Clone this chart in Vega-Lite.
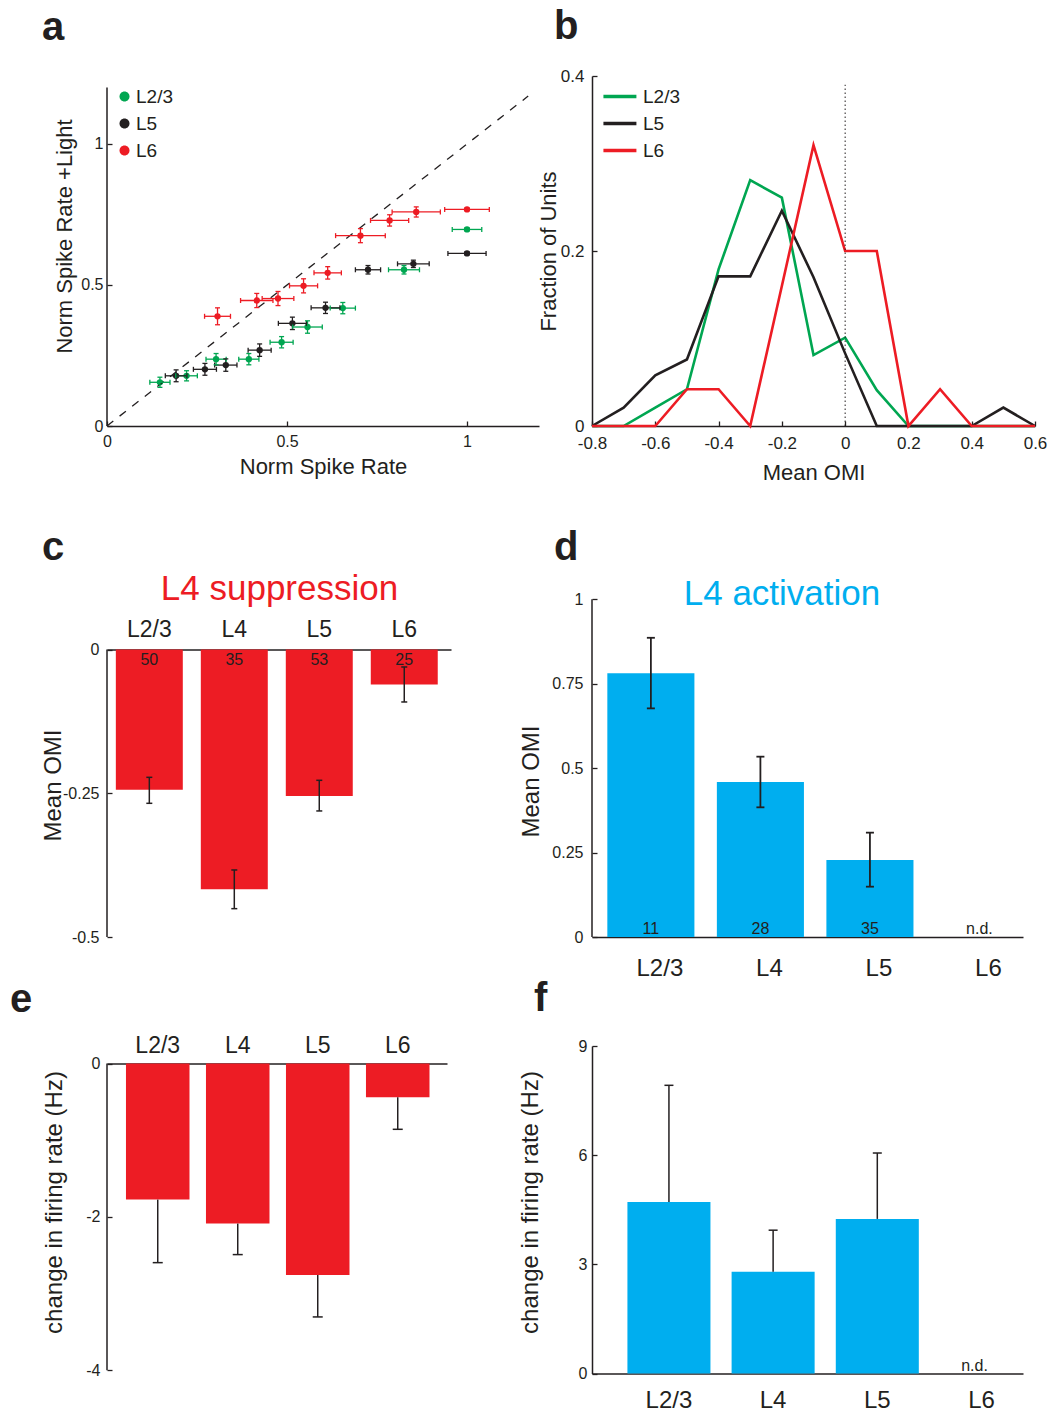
{
  "$schema": "https://vega.github.io/schema/vega-lite/v6.json",
  "background": "white",
  "padding": {"left": 10, "top": 7, "right": 5, "bottom": 5},
  "columns": 2,
  "spacing": {"row": 109, "column": 53},
  "bounds": "flush",
  "align": "each",
  "resolve": {"scale": {"color": "independent"}, "legend": {"color": "independent"}},
  "config": {
    "font": "Liberation Sans",
    "view": {"stroke": null},
    "axis": {
      "grid": false, "domainColor": "#231f20", "domainWidth": 1.5,
      "tickColor": "#231f20", "tickWidth": 1.3,
      "labelColor": "#231f20", "titleColor": "#231f20",
      "labelFont": "Liberation Sans", "titleFont": "Liberation Sans",
      "titleFontWeight": "normal", "labelFontSize": 16, "titleFontSize": 22,
      "labelFlush": false, "labelOverlap": false, "labelBound": false
    },
    "legend": {"labelFont": "Liberation Sans", "labelFontSize": 19, "labelColor": "#231f20"},
    "title": {"font": "Liberation Sans", "color": "#231f20"}
  },
  "concat": [
    {
      "width": 432, "height": 350,
      "title": {"text": "a", "anchor": "start", "frame": "group", "fontSize": 40, "fontWeight": "bold", "baseline": "alphabetic", "offset": -3.6, "dx": -65},
      "data": {"values": [
        {"layer": "L2/3", "x": 0.147, "xlo": 0.119, "xhi": 0.175, "y": 0.155, "ylo": 0.137, "yhi": 0.173},
        {"layer": "L2/3", "x": 0.221, "xlo": 0.191, "xhi": 0.251, "y": 0.178, "ylo": 0.160, "yhi": 0.196},
        {"layer": "L2/3", "x": 0.303, "xlo": 0.275, "xhi": 0.331, "y": 0.237, "ylo": 0.217, "yhi": 0.257},
        {"layer": "L2/3", "x": 0.394, "xlo": 0.366, "xhi": 0.422, "y": 0.237, "ylo": 0.217, "yhi": 0.257},
        {"layer": "L2/3", "x": 0.485, "xlo": 0.453, "xhi": 0.517, "y": 0.297, "ylo": 0.277, "yhi": 0.317},
        {"layer": "L2/3", "x": 0.557, "xlo": 0.516, "xhi": 0.598, "y": 0.351, "ylo": 0.329, "yhi": 0.373},
        {"layer": "L2/3", "x": 0.655, "xlo": 0.620, "xhi": 0.690, "y": 0.418, "ylo": 0.398, "yhi": 0.438},
        {"layer": "L2/3", "x": 0.825, "xlo": 0.782, "xhi": 0.868, "y": 0.554, "ylo": 0.539, "yhi": 0.569},
        {"layer": "L2/3", "x": 1.000, "xlo": 0.959, "xhi": 1.041, "y": 0.697, "ylo": 0.691, "yhi": 0.703},
        {"layer": "L5", "x": 0.192, "xlo": 0.162, "xhi": 0.222, "y": 0.178, "ylo": 0.157, "yhi": 0.199},
        {"layer": "L5", "x": 0.272, "xlo": 0.240, "xhi": 0.304, "y": 0.201, "ylo": 0.180, "yhi": 0.222},
        {"layer": "L5", "x": 0.330, "xlo": 0.299, "xhi": 0.361, "y": 0.216, "ylo": 0.194, "yhi": 0.238},
        {"layer": "L5", "x": 0.424, "xlo": 0.392, "xhi": 0.456, "y": 0.269, "ylo": 0.247, "yhi": 0.291},
        {"layer": "L5", "x": 0.515, "xlo": 0.476, "xhi": 0.554, "y": 0.364, "ylo": 0.342, "yhi": 0.386},
        {"layer": "L5", "x": 0.607, "xlo": 0.567, "xhi": 0.647, "y": 0.419, "ylo": 0.399, "yhi": 0.439},
        {"layer": "L5", "x": 0.725, "xlo": 0.690, "xhi": 0.760, "y": 0.554, "ylo": 0.539, "yhi": 0.569},
        {"layer": "L5", "x": 0.851, "xlo": 0.807, "xhi": 0.895, "y": 0.575, "ylo": 0.562, "yhi": 0.588},
        {"layer": "L5", "x": 1.000, "xlo": 0.947, "xhi": 1.053, "y": 0.612, "ylo": 0.606, "yhi": 0.618},
        {"layer": "L6", "x": 0.307, "xlo": 0.271, "xhi": 0.343, "y": 0.389, "ylo": 0.359, "yhi": 0.419},
        {"layer": "L6", "x": 0.416, "xlo": 0.371, "xhi": 0.461, "y": 0.445, "ylo": 0.420, "yhi": 0.470},
        {"layer": "L6", "x": 0.475, "xlo": 0.431, "xhi": 0.519, "y": 0.452, "ylo": 0.427, "yhi": 0.477},
        {"layer": "L6", "x": 0.546, "xlo": 0.507, "xhi": 0.585, "y": 0.497, "ylo": 0.472, "yhi": 0.522},
        {"layer": "L6", "x": 0.613, "xlo": 0.575, "xhi": 0.651, "y": 0.543, "ylo": 0.521, "yhi": 0.565},
        {"layer": "L6", "x": 0.704, "xlo": 0.635, "xhi": 0.773, "y": 0.675, "ylo": 0.650, "yhi": 0.700},
        {"layer": "L6", "x": 0.785, "xlo": 0.732, "xhi": 0.838, "y": 0.729, "ylo": 0.709, "yhi": 0.749},
        {"layer": "L6", "x": 0.859, "xlo": 0.792, "xhi": 0.926, "y": 0.759, "ylo": 0.741, "yhi": 0.777},
        {"layer": "L6", "x": 1.000, "xlo": 0.938, "xhi": 1.062, "y": 0.768, "ylo": 0.763, "yhi": 0.773}
      ]},
      "layer": [
        {
          "mark": {"type": "point", "filled": true, "shape": "circle", "size": 40, "opacity": 1},
          "encoding": {
            "x": {"field": "x", "type": "quantitative", "title": "Norm Spike Rate",
                  "scale": {"domain": [0, 1.2], "nice": false, "zero": false},
                  "axis": {"values": [0, 0.5, 1], "format": "~g", "tickSize": -5, "labelPadding": 25, "labelBaseline": "alphabetic", "titleY": 47, "titleBaseline": "alphabetic"}},
            "y": {"field": "y", "type": "quantitative", "title": "Norm Spike Rate +Light",
                  "scale": {"domain": [0, 1.2411], "nice": false, "zero": false},
                  "axis": {"values": [0, 0.5, 1], "format": "~g", "domain": false, "tickSize": -5, "labelPadding": 9, "titleX": -36, "titleY": 160, "titleBaseline": "alphabetic"}},
            "color": {"field": "layer", "type": "nominal",
                      "scale": {"domain": ["L2/3", "L5", "L6"], "range": ["#00a651", "#231f20", "#ed1c24"]},
                      "legend": {"orient": "top-left", "title": null, "offset": 11, "symbolType": "M-1.6,0A1,1,0,1,0,0.4,0A1,1,0,1,0,-1.6,0Z", "symbolSize": 100, "symbolStrokeWidth": 0, "labelOffset": -1, "rowPadding": 7}}
          }
        },
        {
          "data": {"values": [{"line": "unity"}]},
          "mark": {"type": "rule", "strokeDash": [8, 8], "color": "#231f20", "strokeWidth": 1.3},
          "encoding": {"x": {"datum": 0, "type": "quantitative"}, "y": {"datum": 0, "type": "quantitative"}, "x2": {"datum": 1.17}, "y2": {"datum": 1.17}}
        },
        {
          "data": {"values": [{"line": "y axis"}]},
          "mark": {"type": "rule", "color": "#231f20", "strokeWidth": 1.5},
          "encoding": {"x": {"datum": 0, "type": "quantitative"}, "y": {"datum": 0, "type": "quantitative"}, "y2": {"datum": 1.2}}
        },
        {
          "mark": {"type": "rule", "strokeWidth": 1.3},
          "encoding": {
            "x": {"field": "xlo", "type": "quantitative", "title": "Norm Spike Rate"}, "x2": {"field": "xhi"},
            "y": {"field": "y", "type": "quantitative", "title": "Norm Spike Rate +Light"},
            "color": {"field": "layer", "type": "nominal", "legend": null}
          }
        },
        {
          "mark": {"type": "rule", "strokeWidth": 1.3},
          "encoding": {
            "x": {"field": "x", "type": "quantitative", "title": "Norm Spike Rate"},
            "y": {"field": "ylo", "type": "quantitative", "title": "Norm Spike Rate +Light"}, "y2": {"field": "yhi"},
            "color": {"field": "layer", "type": "nominal", "legend": null}
          }
        },
        {
          "mark": {"type": "tick", "orient": "vertical", "size": 5, "thickness": 1.3, "opacity": 1},
          "encoding": {
            "x": {"field": "xlo", "type": "quantitative", "title": "Norm Spike Rate"},
            "y": {"field": "y", "type": "quantitative", "title": "Norm Spike Rate +Light"},
            "color": {"field": "layer", "type": "nominal", "legend": null}
          }
        },
        {
          "mark": {"type": "tick", "orient": "vertical", "size": 5, "thickness": 1.3, "opacity": 1},
          "encoding": {
            "x": {"field": "xhi", "type": "quantitative", "title": "Norm Spike Rate"},
            "y": {"field": "y", "type": "quantitative", "title": "Norm Spike Rate +Light"},
            "color": {"field": "layer", "type": "nominal", "legend": null}
          }
        },
        {
          "mark": {"type": "tick", "orient": "horizontal", "size": 5, "thickness": 1.3, "opacity": 1},
          "encoding": {
            "x": {"field": "x", "type": "quantitative", "title": "Norm Spike Rate"},
            "y": {"field": "ylo", "type": "quantitative", "title": "Norm Spike Rate +Light"},
            "color": {"field": "layer", "type": "nominal", "legend": null}
          }
        },
        {
          "mark": {"type": "tick", "orient": "horizontal", "size": 5, "thickness": 1.3, "opacity": 1},
          "encoding": {
            "x": {"field": "x", "type": "quantitative", "title": "Norm Spike Rate"},
            "y": {"field": "yhi", "type": "quantitative", "title": "Norm Spike Rate +Light"},
            "color": {"field": "layer", "type": "nominal", "legend": null}
          }
        }
      ]
    },
    {
      "width": 443, "height": 350,
      "title": {"text": "b", "anchor": "start", "frame": "group", "fontSize": 40, "fontWeight": "bold", "baseline": "alphabetic", "offset": -12.3, "dx": -38},
      "layer": [
        {
          "data": {"values": [
            {"layer": "L2/3", "omi": -0.8, "fraction": 0},
            {"layer": "L2/3", "omi": -0.7, "fraction": 0},
            {"layer": "L2/3", "omi": -0.6, "fraction": 0.021},
            {"layer": "L2/3", "omi": -0.5, "fraction": 0.042},
            {"layer": "L2/3", "omi": -0.4, "fraction": 0.179},
            {"layer": "L2/3", "omi": -0.3, "fraction": 0.281},
            {"layer": "L2/3", "omi": -0.2, "fraction": 0.261},
            {"layer": "L2/3", "omi": -0.1, "fraction": 0.081},
            {"layer": "L2/3", "omi": 0.0, "fraction": 0.101},
            {"layer": "L2/3", "omi": 0.1, "fraction": 0.041},
            {"layer": "L2/3", "omi": 0.2, "fraction": 0},
            {"layer": "L2/3", "omi": 0.3, "fraction": 0},
            {"layer": "L2/3", "omi": 0.4, "fraction": 0},
            {"layer": "L2/3", "omi": 0.5, "fraction": 0},
            {"layer": "L2/3", "omi": 0.6, "fraction": 0},
            {"layer": "L5", "omi": -0.8, "fraction": 0},
            {"layer": "L5", "omi": -0.7, "fraction": 0.021},
            {"layer": "L5", "omi": -0.6, "fraction": 0.058},
            {"layer": "L5", "omi": -0.5, "fraction": 0.076},
            {"layer": "L5", "omi": -0.4, "fraction": 0.171},
            {"layer": "L5", "omi": -0.3, "fraction": 0.171},
            {"layer": "L5", "omi": -0.2, "fraction": 0.246},
            {"layer": "L5", "omi": -0.1, "fraction": 0.170},
            {"layer": "L5", "omi": 0.0, "fraction": 0.083},
            {"layer": "L5", "omi": 0.1, "fraction": 0},
            {"layer": "L5", "omi": 0.2, "fraction": 0},
            {"layer": "L5", "omi": 0.3, "fraction": 0},
            {"layer": "L5", "omi": 0.4, "fraction": 0},
            {"layer": "L5", "omi": 0.5, "fraction": 0.021},
            {"layer": "L5", "omi": 0.6, "fraction": 0},
            {"layer": "L6", "omi": -0.8, "fraction": 0},
            {"layer": "L6", "omi": -0.7, "fraction": 0},
            {"layer": "L6", "omi": -0.6, "fraction": 0},
            {"layer": "L6", "omi": -0.5, "fraction": 0.042},
            {"layer": "L6", "omi": -0.4, "fraction": 0.042},
            {"layer": "L6", "omi": -0.3, "fraction": 0},
            {"layer": "L6", "omi": -0.2, "fraction": 0.16},
            {"layer": "L6", "omi": -0.1, "fraction": 0.321},
            {"layer": "L6", "omi": 0.0, "fraction": 0.2},
            {"layer": "L6", "omi": 0.1, "fraction": 0.2},
            {"layer": "L6", "omi": 0.2, "fraction": 0},
            {"layer": "L6", "omi": 0.3, "fraction": 0.042},
            {"layer": "L6", "omi": 0.4, "fraction": 0},
            {"layer": "L6", "omi": 0.5, "fraction": 0},
            {"layer": "L6", "omi": 0.6, "fraction": 0}
          ]},
          "mark": {"type": "line", "strokeWidth": 2.6},
          "encoding": {
            "x": {"field": "omi", "type": "quantitative", "title": "Mean OMI",
                  "scale": {"domain": [-0.8, 0.6], "nice": false, "zero": false},
                  "axis": {"values": [-0.8, -0.6, -0.4, -0.2, 0, 0.2, 0.4, 0.6], "format": "~g", "labelExpr": "replace(datum.label, '\u2212', '-')", "labelFontSize": 17, "tickSize": -5, "labelPadding": 27, "labelBaseline": "alphabetic", "titleY": 53, "titleBaseline": "alphabetic"}},
            "y": {"field": "fraction", "type": "quantitative", "title": "Fraction of Units",
                  "scale": {"domain": [0, 0.4], "nice": false},
                  "axis": {"values": [0, 0.2, 0.4], "format": "~g", "labelFontSize": 17, "tickSize": -5, "labelPadding": 13, "titleX": -37, "titleBaseline": "alphabetic"}},
            "color": {"field": "layer", "type": "nominal",
                      "scale": {"domain": ["L2/3", "L5", "L6"], "range": ["#00a651", "#231f20", "#ed1c24"]},
                      "legend": {"orient": "top-left", "title": null, "offset": 11, "symbolType": "M-2.2,0H5.8", "symbolSize": 68, "symbolStrokeWidth": 3.5, "labelOffset": 21, "rowPadding": 7}}
          }
        },
        {
          "data": {"values": [{"line": "zero"}]},
          "mark": {"type": "rule", "strokeDash": [1.5, 2.5], "color": "#231f20", "strokeWidth": 1},
          "encoding": {"x": {"datum": 0, "type": "quantitative"}, "y": {"datum": 0, "type": "quantitative"}, "y2": {"datum": 0.39}}
        }
      ]
    },
    {
      "width": 344, "height": 402,
      "title": {"text": "c", "anchor": "start", "frame": "group", "fontSize": 40, "fontWeight": "bold", "baseline": "alphabetic", "offset": -64.8, "dx": -65},
      "data": {"values": [
        {"layer": "L2/3", "omi": -0.2436, "lo": -0.2674, "hi": -0.2222, "n": "50"},
        {"layer": "L4", "omi": -0.417, "lo": -0.4507, "hi": -0.3834, "n": "35"},
        {"layer": "L5", "omi": -0.2546, "lo": -0.2807, "hi": -0.2274, "n": "53"},
        {"layer": "L6", "omi": -0.0609, "lo": -0.0911, "hi": -0.0302, "n": "25"}
      ]},
      "layer": [
        {
          "encoding": {
            "x": {"field": "layer", "type": "nominal", "sort": null, "title": null,
                  "scale": {"domain": ["L2/3", "L4", "L5", "L6"], "paddingInner": 0.212, "paddingOuter": 0.13, "align": 0.4},
                  "axis": {"orient": "top", "offset": -114.6, "ticks": false, "labelAngle": 0, "labelFontSize": 23, "labelPadding": 13.3, "labelBaseline": "alphabetic"}}
          },
          "layer": [
            {
              "mark": {"type": "bar", "color": "#ed1c24"},
              "encoding": {
                "y": {"field": "omi", "type": "quantitative", "title": "Mean OMI",
                      "scale": {"domain": [-0.5, 0.1994], "nice": false, "zero": false},
                      "axis": {"values": [0, -0.25, -0.5], "format": "~g", "labelExpr": "replace(datum.label, '\u2212', '-')", "domain": false, "tickSize": -5, "labelPadding": 13, "titleFontSize": 24, "titleX": -47, "titleY": 250, "titleBaseline": "alphabetic"}}
              }
            },
            {
              "mark": {"type": "rule", "color": "#231f20", "strokeWidth": 1.5},
              "encoding": {"y": {"field": "lo", "type": "quantitative", "title": "Mean OMI"}, "y2": {"field": "hi"}}
            },
            {
              "mark": {"type": "tick", "orient": "horizontal", "size": 6, "thickness": 1.5, "color": "#231f20", "opacity": 1},
              "encoding": {"y": {"field": "lo", "type": "quantitative", "title": "Mean OMI"}}
            },
            {
              "mark": {"type": "tick", "orient": "horizontal", "size": 6, "thickness": 1.5, "color": "#231f20", "opacity": 1},
              "encoding": {"y": {"field": "hi", "type": "quantitative", "title": "Mean OMI"}}
            },
            {
              "mark": {"type": "text", "baseline": "top", "dy": 2, "fontSize": 16, "color": "#231f20"},
              "encoding": {"y": {"datum": 0, "type": "quantitative"}, "text": {"field": "n"}}
            }
          ]
        },
        {
          "data": {"values": [{"line": "y axis"}]},
          "mark": {"type": "rule", "color": "#231f20", "strokeWidth": 1.5},
          "encoding": {
            "x": {"datum": 0, "type": "quantitative", "scale": {"domain": [0, 1]},
                  "axis": {"orient": "top", "title": "L4 suppression", "titleColor": "#ed1c24", "titleFontSize": 35, "titlePadding": 0, "titleBaseline": "alphabetic", "offset": -64.3, "labels": false, "ticks": false, "domain": false}},
            "y": {"datum": 0, "type": "quantitative"}, "y2": {"datum": -0.5}
          }
        }
      ],
      "resolve": {"scale": {"x": "independent"}}
    },
    {
      "width": 431, "height": 402,
      "title": {"text": "d", "anchor": "start", "frame": "group", "fontSize": 40, "fontWeight": "bold", "baseline": "alphabetic", "offset": -65.3, "dx": -38},
      "data": {"values": [
        {"layer": "L2/3", "omi": 0.781, "lo": 0.677, "hi": 0.886, "n": "11"},
        {"layer": "L4", "omi": 0.459, "lo": 0.384, "hi": 0.534, "n": "28"},
        {"layer": "L5", "omi": 0.228, "lo": 0.149, "hi": 0.309, "n": "35"},
        {"layer": "L6", "omi": null, "lo": null, "hi": null, "n": "n.d."}
      ]},
      "layer": [
        {
          "encoding": {
            "x": {"field": "layer", "type": "nominal", "sort": null, "title": null,
                  "scale": {"domain": ["L2/3", "L4", "L5", "L6"], "paddingInner": 0.205, "paddingOuter": 0.07, "align": 1},
                  "axis": {"orient": "bottom", "ticks": false, "labelAngle": 0, "labelFontSize": 24, "labelPadding": 38.3, "labelBaseline": "alphabetic", "labelOffset": 9}}
          },
          "layer": [
            {
              "mark": {"type": "bar", "color": "#00aeef"},
              "encoding": {
                "y": {"field": "omi", "type": "quantitative", "title": "Mean OMI",
                      "scale": {"domain": [0, 1.1904], "nice": false},
                      "axis": {"values": [0, 0.25, 0.5, 0.75, 1], "format": "~g", "domain": false, "tickSize": -5, "labelPadding": 14, "titleFontSize": 24, "titleX": -54, "titleY": 246, "titleBaseline": "alphabetic"}}
              }
            },
            {
              "mark": {"type": "rule", "color": "#231f20", "strokeWidth": 1.8},
              "encoding": {"y": {"field": "lo", "type": "quantitative", "title": "Mean OMI"}, "y2": {"field": "hi"}}
            },
            {
              "mark": {"type": "tick", "orient": "horizontal", "size": 8, "thickness": 1.8, "color": "#231f20", "opacity": 1},
              "encoding": {"y": {"field": "lo", "type": "quantitative", "title": "Mean OMI"}}
            },
            {
              "mark": {"type": "tick", "orient": "horizontal", "size": 8, "thickness": 1.8, "color": "#231f20", "opacity": 1},
              "encoding": {"y": {"field": "hi", "type": "quantitative", "title": "Mean OMI"}}
            },
            {
              "mark": {"type": "text", "baseline": "alphabetic", "dy": -3, "fontSize": 16, "color": "#231f20"},
              "encoding": {"y": {"datum": 0, "type": "quantitative"}, "text": {"field": "n"}}
            }
          ]
        },
        {
          "data": {"values": [{"line": "y axis"}]},
          "mark": {"type": "rule", "color": "#231f20", "strokeWidth": 1.5},
          "encoding": {
            "x": {"datum": 0, "type": "quantitative", "scale": {"domain": [0, 1]},
                  "axis": {"orient": "top", "title": "L4 activation", "titleColor": "#00aeef", "titleFontSize": 35, "titlePadding": 0, "titleBaseline": "alphabetic", "titleX": 189.5, "titleAlign": "center", "offset": -69.3, "labels": false, "ticks": false, "domain": false}},
            "y": {"datum": 0, "type": "quantitative"}, "y2": {"datum": 1}
          }
        }
      ],
      "resolve": {"scale": {"x": "independent"}}
    },
    {
      "width": 340, "height": 324.3,
      "title": {"text": "e", "anchor": "start", "frame": "group", "fontSize": 40, "fontWeight": "bold", "baseline": "alphabetic", "offset": -17.7, "dx": -97},
      "data": {"values": [
        {"layer": "L2/3", "rate": -1.774, "lo": -2.596},
        {"layer": "L4", "rate": -2.087, "lo": -2.491},
        {"layer": "L5", "rate": -2.757, "lo": -3.304},
        {"layer": "L6", "rate": -0.439, "lo": -0.857}
      ]},
      "layer": [
        {
          "encoding": {
            "x": {"field": "layer", "type": "nominal", "sort": null, "title": null,
                  "scale": {"domain": ["L2/3", "L4", "L5", "L6"], "paddingInner": 0.206, "paddingOuter": 0.228, "align": 0.52},
                  "axis": {"orient": "top", "offset": -17.6, "ticks": false, "labelAngle": 0, "labelFontSize": 23, "labelPadding": 11.6, "labelBaseline": "alphabetic"}}
          },
          "layer": [
            {
              "mark": {"type": "bar", "color": "#ed1c24"},
              "encoding": {
                "y": {"field": "rate", "type": "quantitative", "title": "change in firing rate (Hz)",
                      "scale": {"domain": [-4, 0.2295], "nice": false, "zero": false},
                      "axis": {"values": [0, -2, -4], "format": "~g", "labelExpr": "replace(datum.label, '\u2212', '-')", "domain": false, "tickSize": -5, "labelPadding": 12, "titleFontSize": 24, "titleX": -46, "titleY": 156, "titleBaseline": "alphabetic"}}
              }
            },
            {
              "mark": {"type": "rule", "color": "#231f20", "strokeWidth": 1.5},
              "encoding": {"y": {"field": "rate", "type": "quantitative", "title": "change in firing rate (Hz)"}, "y2": {"field": "lo"}}
            },
            {
              "mark": {"type": "tick", "orient": "horizontal", "size": 10, "thickness": 1.5, "color": "#231f20", "opacity": 1},
              "encoding": {"y": {"field": "lo", "type": "quantitative", "title": "change in firing rate (Hz)"}}
            }
          ]
        },
        {
          "data": {"values": [{"line": "y axis"}]},
          "mark": {"type": "rule", "color": "#231f20", "strokeWidth": 1.5},
          "encoding": {
            "x": {"datum": 0, "type": "quantitative", "scale": {"domain": [0, 1]}, "axis": null},
            "y": {"datum": 0, "type": "quantitative"}, "y2": {"datum": -4}
          }
        }
      ],
      "resolve": {"scale": {"x": "independent"}}
    },
    {
      "width": 431, "height": 327.6,
      "title": {"text": "f", "anchor": "start", "frame": "group", "fontSize": 40, "fontWeight": "bold", "baseline": "alphabetic", "offset": -12.6, "dx": -58},
      "data": {"values": [
        {"layer": "L2/3", "rate": 4.716, "hi": 7.92, "note": ""},
        {"layer": "L4", "rate": 2.80, "hi": 3.94, "note": ""},
        {"layer": "L5", "rate": 4.25, "hi": 6.06, "note": ""},
        {"layer": "L6", "rate": null, "hi": null, "note": "n.d."}
      ]},
      "encoding": {
        "x": {"field": "layer", "type": "nominal", "sort": null, "title": null,
              "scale": {"domain": ["L2/3", "L4", "L5", "L6"], "paddingInner": 0.203, "paddingOuter": 0.17, "align": 1},
              "axis": {"orient": "bottom", "ticks": false, "labelAngle": 0, "labelFontSize": 24, "labelPadding": 33.7, "labelBaseline": "alphabetic"}}
      },
      "layer": [
        {
          "mark": {"type": "bar", "color": "#00aeef"},
          "encoding": {
            "y": {"field": "rate", "type": "quantitative", "title": "change in firing rate (Hz)",
                  "scale": {"domain": [0, 9], "nice": false},
                  "axis": {"values": [0, 3, 6, 9], "format": "~g", "tickSize": -5, "labelPadding": 10, "titleFontSize": 24, "titleX": -55, "titleY": 156, "titleBaseline": "alphabetic"}}
          }
        },
        {
          "mark": {"type": "rule", "color": "#231f20", "strokeWidth": 1.5},
          "encoding": {"y": {"field": "rate", "type": "quantitative", "title": "change in firing rate (Hz)"}, "y2": {"field": "hi"}}
        },
        {
          "mark": {"type": "tick", "orient": "horizontal", "size": 9, "thickness": 1.5, "color": "#231f20", "opacity": 1},
          "encoding": {"y": {"field": "hi", "type": "quantitative", "title": "change in firing rate (Hz)"}}
        },
        {
          "mark": {"type": "text", "baseline": "alphabetic", "dy": -3, "dx": -7, "fontSize": 16, "color": "#231f20"},
          "encoding": {"y": {"datum": 0, "type": "quantitative"}, "text": {"field": "note"}}
        }
      ]
    }
  ]
}
